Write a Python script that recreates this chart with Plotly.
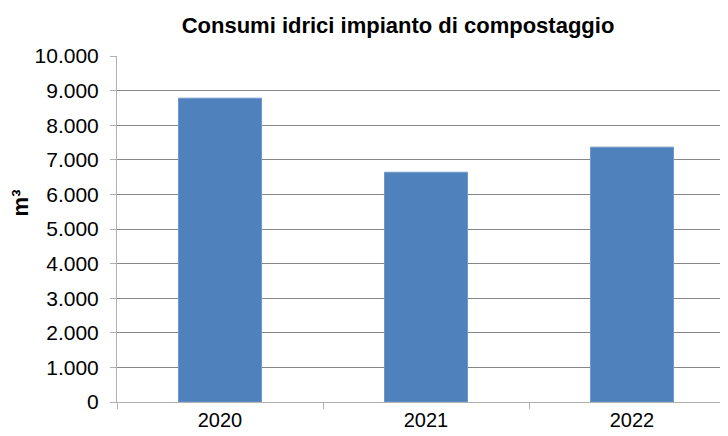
import plotly.graph_objects as go

# dati
anni = ["2020", "2021", "2022"]
consumi_m3 = [8780, 6640, 7365]
y_ticks = list(range(0, 10001, 1000))

FONT = "Liberation Sans, Arial, sans-serif"

# the html page puts the plot 8px in from the corner (body margin),
# so the figure is sized 8px smaller and everything is placed 8px earlier
W, H = 720, 428

fig = go.Figure(
    go.Bar(
        x=anni,
        y=consumi_m3,
        width=0.403,
        marker=dict(color="#4f81bd", line=dict(color="#6f97c9", width=1)),
        hoverinfo="x+y",
    )
)

fig.update_layout(
    width=W,
    height=H,
    margin=dict(l=109, r=0, t=47.5, b=34.3, autoexpand=False),
    paper_bgcolor="white",
    plot_bgcolor="white",
    separators=",.",
    showlegend=False,
    font=dict(family=FONT, color="black", size=20),
    title=dict(
        text="<b>Consumi idrici impianto di compostaggio</b>",
        font=dict(family=FONT, size=22, color="black"),
        x=390 / W, xref="container", xanchor="center",
        y=1 - 17 / H, yref="container", yanchor="middle",
    ),
    annotations=[
        dict(
            text="<b>m³</b>",
            textangle=-90,
            xref="paper", yref="paper",
            x=(20 - 117) / 611, y=(401.7 - 203) / 346.2,
            xanchor="center", yanchor="middle",
            showarrow=False,
            font=dict(family=FONT, size=22, color="black"),
        )
    ],
)

fig.update_xaxes(
    type="category",
    range=[-0.5, -0.5 + 611 / 206],
    tickson="boundaries",
    ticks="outside",
    ticklen=6,
    tickcolor="#b0b0b0",
    showline=True,
    linecolor="#b0b0b0",
    linewidth=1,
    showgrid=False,
    automargin=False,
    tickfont=dict(family=FONT, size=20, color="black"),
)

fig.update_yaxes(
    range=[0, 10000],
    tickvals=y_ticks,
    tickformat=",d",
    ticks="outside",
    ticklen=6,
    tickcolor="#b0b0b0",
    showline=True,
    linecolor="#b0b0b0",
    linewidth=1,
    showgrid=True,
    gridcolor="#868686",
    gridwidth=1,
    zeroline=False,
    automargin=False,
    ticklabelstandoff=7,
    tickfont=dict(family=FONT, size=21, color="black"),
)

fig.write_html("out.html")
